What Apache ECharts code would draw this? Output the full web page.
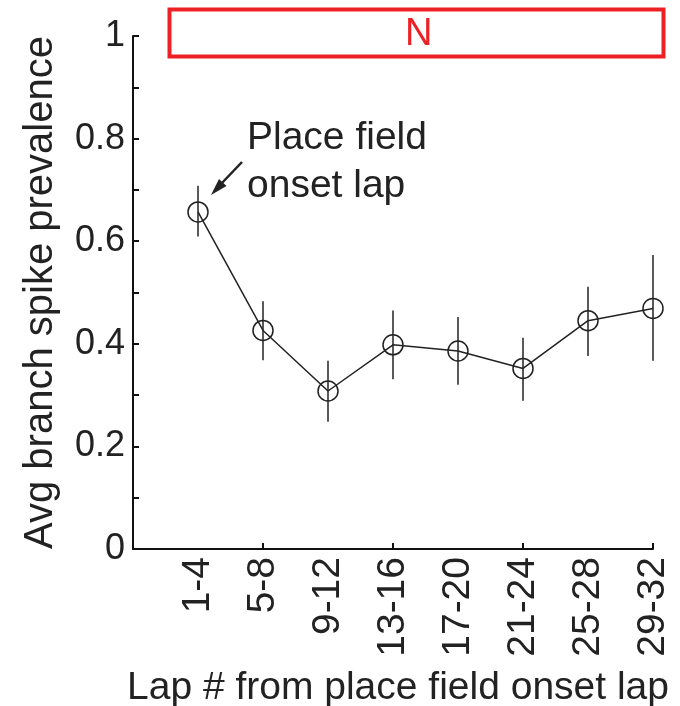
<!DOCTYPE html>
<html>
<head>
<meta charset="utf-8">
<script src="https://cdn.jsdelivr.net/npm/echarts@6/dist/echarts.min.js"></script>
<style>html,body{margin:0;padding:0;background:#fff;}#c{width:680px;height:706px;}</style>
</head>
<body>
<div id="c"></div>
<script>
var categories = ['1-4', '5-8', '9-12', '13-16', '17-20', '21-24', '25-28', '29-32'];
var means = [0.657, 0.426, 0.308, 0.398, 0.386, 0.352, 0.445, 0.469];
var lower = [0.609, 0.368, 0.248, 0.331, 0.320, 0.289, 0.376, 0.367];
var upper = [0.708, 0.483, 0.367, 0.465, 0.452, 0.412, 0.511, 0.573];
var yTicks = [0, 0.2, 0.4, 0.6, 0.8, 1];

var FONT = 'Liberation Sans, Arial, Helvetica, sans-serif';
var axisData = [''].concat(categories);

var chart = echarts.init(document.getElementById('c'), null, {renderer: 'canvas'});
var option = {
  animation: false,
  backgroundColor: '#fff',
  grid: {left: 133, right: 27, top: 36, bottom: 157, containLabel: false, outerBoundsMode: 'none'},
  xAxis: {
    type: 'category',
    data: axisData,
    boundaryGap: false,
    name: 'Lap # from place field onset lap',
    nameLocation: 'middle',
    nameGap: 120,
    nameTextStyle: {fontFamily: FONT, fontSize: 39, color: '#222', padding: [0, 0, 0, 10]},
    axisLine: {show: true, lineStyle: {color: '#111', width: 2}},
    axisTick: {show: true, inside: true, length: 6, lineStyle: {color: '#111', width: 2},
      interval: function (i) { return i > 0 && i % 2 === 0; }},
    axisLabel: {interval: 0, rotate: 90, margin: 8, fontFamily: FONT, fontSize: 39, color: '#222',
      formatter: function (v) { return v; }},
    splitLine: {show: false}
  },
  yAxis: {
    type: 'value',
    min: 0, max: 1, interval: 0.2,
    name: 'Avg branch spike prevalence',
    nameLocation: 'middle',
    nameGap: 72,
    nameTextStyle: {fontFamily: FONT, fontSize: 40, color: '#222'},
    axisLine: {show: true, lineStyle: {color: '#111', width: 2}},
    axisTick: {show: true, inside: true, length: 6, lineStyle: {color: '#111', width: 2}},
    minorTick: {show: true, splitNumber: 2, length: 6, lineStyle: {color: '#111', width: 2}},
    axisLabel: {margin: 8, fontFamily: FONT, fontSize: 36, color: '#222',
      formatter: function (v) { return yTicks.indexOf(+v.toFixed(1)) >= 0 ? String(+v.toFixed(1)) : ''; }},
    splitLine: {show: false}
  },
  series: [
    {
      type: 'custom',
      name: 'err',
      data: categories.map(function (c, i) { return [c, lower[i], upper[i]]; }),
      encode: {x: 0, y: [1, 2]},
      z: 1,
      renderItem: function (params, api) {
        var lo = api.coord([api.value(0), api.value(1)]);
        var hi = api.coord([api.value(0), api.value(2)]);
        return {type: 'line', shape: {x1: lo[0], y1: lo[1], x2: hi[0], y2: hi[1]},
          style: {stroke: '#222', lineWidth: 1.5}};
      }
    },
    {
      type: 'line',
      data: categories.map(function (c, i) { return [c, means[i]]; }),
      symbol: 'circle',
      symbolSize: 20,
      showSymbol: true,
      lineStyle: {color: '#222', width: 1.5},
      itemStyle: {color: 'rgba(255,255,255,0)', borderColor: '#222', borderWidth: 1.5},
      z: 2
    }
  ],
  graphic: [
    {type: 'rect', left: 167, top: 7, shape: {width: 494, height: 47},
      style: {fill: 'none', stroke: '#ed2024', lineWidth: 4}},
    {type: 'text', left: 405, top: 16,
      style: {text: 'N', fontFamily: FONT, fontSize: 38, fill: '#ed2024'}},
    {type: 'text', left: 247, top: 114,
      style: {text: 'Place field\nonset lap', fontFamily: FONT, fontSize: 39, lineHeight: 48, fill: '#222'}},
    {type: 'line', shape: {x1: 242, y1: 162, x2: 221, y2: 184},
      style: {stroke: '#222', lineWidth: 2.5}},
    {type: 'polygon', shape: {points: [[211, 195], [219, 179], [226.5, 186]]},
      style: {fill: '#222'}}
  ]
};
chart.setOption(option);
</script>
</body>
</html>
